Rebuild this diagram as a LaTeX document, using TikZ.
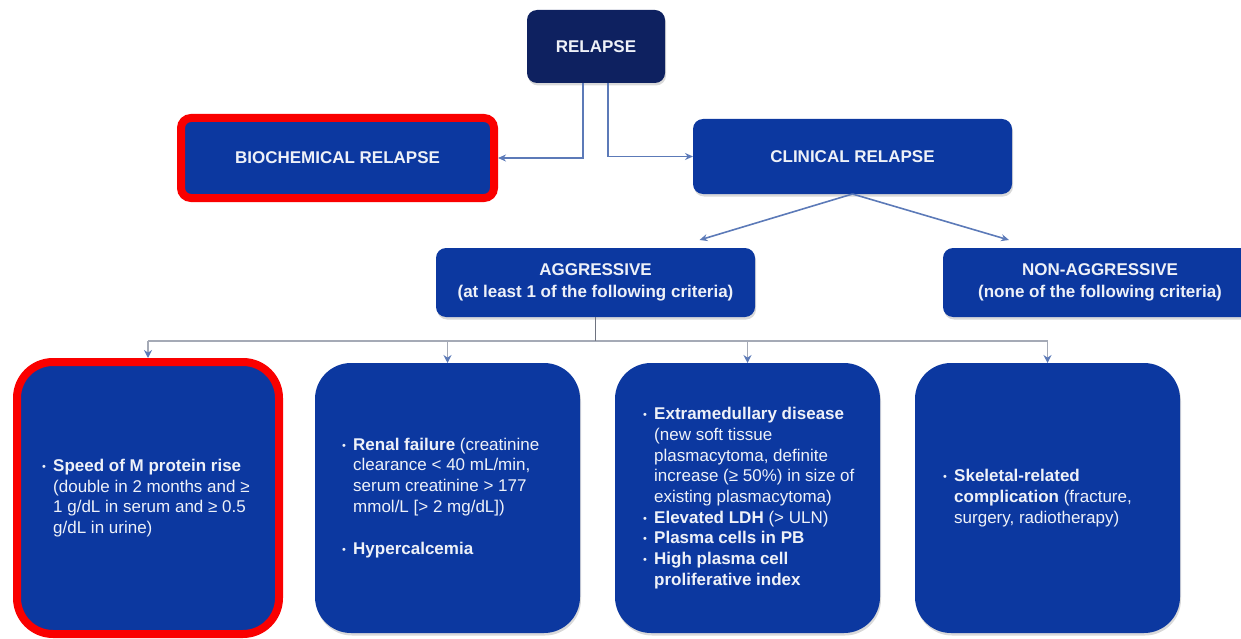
\documentclass[tikz,border=0pt]{standalone}
\usepackage{fontspec}
\setmainfont{Liberation Sans}
\usetikzlibrary{arrows.meta,shadows,calc}
\definecolor{boxblue}{RGB}{12,56,160}
\definecolor{navy}{RGB}{14,33,96}
\definecolor{connc}{RGB}{92,122,184}
\definecolor{hlinec}{RGB}{165,170,182}
\definecolor{vlinec}{RGB}{110,115,128}
\definecolor{txtc}{RGB}{238,241,248}
\definecolor{hired}{RGB}{250,0,0}
\newcommand\bul{\makebox[11pt][l]{\fontsize{11}{11}\selectfont\raisebox{1pt}{•}}}
\newcommand\indt{\hspace*{11pt}}
\tikzset{
 basebox/.style={rectangle, rounded corners=10pt, fill=boxblue, inner sep=0pt, outer sep=0pt,
   text=txtc, font=\bfseries\fontsize{17}{22}\selectfont, align=center},
 box/.style={basebox, drop shadow={opacity=0.3,shadow xshift=1pt,shadow yshift=-2.5pt}},
 bigr/.style={rounded corners=36pt},
 redframe/.style={draw=hired, line width=8pt},
 body/.style={anchor=west, align=left, text=txtc, font=\fontsize{17}{20.7}\selectfont, inner sep=0pt},
 arr/.style={draw=connc, line width=1.6pt, -{Stealth[length=8pt,width=7pt]}},
 gline/.style={draw=hlinec, line width=1.5pt},
 vline/.style={draw=vlinec, line width=1.5pt},
 darr/.style={draw=hlinec, line width=1.5pt, -{Stealth[length=8pt,width=8pt,color=connc]}},
}
\begin{document}
\begin{tikzpicture}[x=1pt,y=-1pt]
\useasboundingbox (0,0) rectangle (1241,639);
\clip (0,0) rectangle (1241,639);
% top level
\node[box, fill=navy, minimum width=138pt, minimum height=73pt] (rel) at (596,46.5) {RELAPSE};
\node[basebox, redframe, minimum width=313pt, minimum height=80pt] (bio) at (337.5,158) {BIOCHEMICAL RELAPSE};
\node[box, minimum width=319pt, minimum height=75pt] (clin) at (852.5,156.5) {CLINICAL RELAPSE};
\node[box, minimum width=319pt, minimum height=69pt] (agg) at (595.5,282.5) {AGGRESSIVE\\(at least 1 of the following criteria)};
\node[box, minimum width=314pt, minimum height=69pt] (non) at (1100,282.5) {NON-AGGRESSIVE\\(none of the following criteria)};
% bottom boxes
\node[basebox, bigr, redframe, minimum width=262pt, minimum height=272pt] (b1) at (148,498) {};
\node[box, bigr, minimum width=265pt, minimum height=270pt] (b2) at (447.5,498) {};
\node[box, bigr, minimum width=265pt, minimum height=270pt] (b3) at (747.5,498) {};
\node[box, bigr, minimum width=265pt, minimum height=270pt] (b4) at (1047.5,498) {};
% body texts
\node[body] (t1) at ([xshift=25pt]b1.west) {\bul\textbf{Speed of M protein rise}\\
\indt(double in 2 months and ≥\\
\indt 1 g/dL in serum and ≥ 0.5\\
\indt g/dL in urine)};
\node[body] (t2) at ([xshift=27pt]b2.west) {\bul\textbf{Renal failure} (creatinine\\
\indt clearance < 40 mL/min,\\
\indt serum creatinine > 177\\
\indt mmol/L [> 2 mg/dL])\\[22pt]
\bul\textbf{Hypercalcemia}};
\node[body] (t3) at ([xshift=28pt]b3.west) {\bul\textbf{Extramedullary disease}\\
\indt(new soft tissue\\
\indt plasmacytoma, definite\\
\indt increase (≥ 50\%) in size of\\
\indt existing plasmacytoma)\\
\bul\textbf{Elevated LDH} (> ULN)\\
\bul\textbf{Plasma cells in PB}\\
\bul\textbf{High plasma cell}\\
\indt\textbf{proliferative index}};
\node[body] (t4) at ([xshift=28pt]b4.west) {\bul\textbf{Skeletal-related}\\
\indt\textbf{complication} (fracture,\\
\indt surgery, radiotherapy)};
% connectors
\draw[arr, shorten >=4pt] ([xshift=-13pt]rel.south) |- (bio.east);
\draw[arr] ([xshift=12pt]rel.south) |- (clin.west);
\draw[arr] (clin.south) -- ([xshift=104pt,yshift=8pt]agg.north);
\draw[arr] (clin.south) -- ([xshift=-91pt,yshift=8pt]non.north);
\coordinate (hl) at (148,341);
\coordinate (hr) at (1047.5,341);
\draw[gline] (hl) -- (hr);
\draw[vline] (agg.south) -- (agg.south |- hl);
\draw[darr, shorten >=4pt] (hl) -- (b1.north);
\draw[darr] (b2.north |- hl) -- (b2.north);
\draw[darr] (b3.north |- hl) -- (b3.north);
\draw[darr] (hr) -- (b4.north);
\end{tikzpicture}
\end{document}
